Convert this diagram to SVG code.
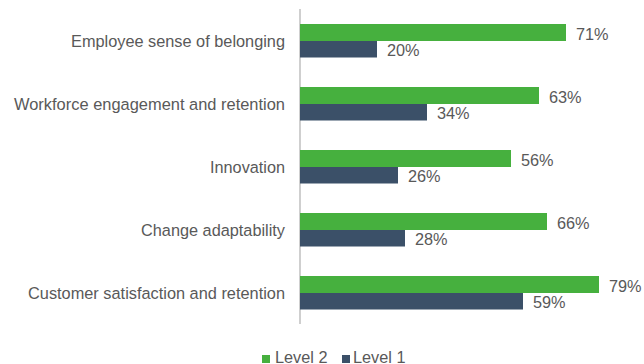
<svg xmlns="http://www.w3.org/2000/svg" width="644" height="364" viewBox="0 0 644 364">
<style>
.cat{font-family:"Liberation Sans",Arial,sans-serif;font-size:16.3px;fill:#595959}
.val{font-family:"Liberation Sans",Arial,sans-serif;font-size:16.3px;fill:#595959}
.leg{font-family:"Liberation Sans",Arial,sans-serif;font-size:16.3px;fill:#595959}
.g{fill:#46B03E}
.n{fill:#3B5068}
</style>
<rect width="644" height="364" fill="#FFFFFF"/>
<g id="connectors">
<line x1="300" y1="9" x2="300" y2="324" stroke="#BFBFBF" stroke-width="1.5"/>
</g>
<g id="row1">
<text class="cat" x="71" y="46.5" textLength="214" lengthAdjust="spacingAndGlyphs">Employee sense of belonging</text>
<rect class="g" x="300" y="24" width="266" height="17"/>
<rect class="n" x="300" y="41" width="77" height="16.5"/>
<text class="val" x="576" y="39.5">71%</text>
<text class="val" x="387" y="56">20%</text>
</g>
<g id="row2">
<text class="cat" x="14" y="109.5" textLength="271" lengthAdjust="spacingAndGlyphs">Workforce engagement and retention</text>
<rect class="g" x="300" y="87" width="239" height="17"/>
<rect class="n" x="300" y="104" width="127" height="16.5"/>
<text class="val" x="549" y="102.5">63%</text>
<text class="val" x="437" y="119">34%</text>
</g>
<g id="row3">
<text class="cat" x="210" y="172.5" textLength="75" lengthAdjust="spacingAndGlyphs">Innovation</text>
<rect class="g" x="300" y="150" width="211" height="17"/>
<rect class="n" x="300" y="167" width="98" height="16.5"/>
<text class="val" x="521" y="165.5">56%</text>
<text class="val" x="408" y="182">26%</text>
</g>
<g id="row4">
<text class="cat" x="141" y="235.5" textLength="144" lengthAdjust="spacingAndGlyphs">Change adaptability</text>
<rect class="g" x="300" y="213" width="247" height="17"/>
<rect class="n" x="300" y="230" width="105" height="16.5"/>
<text class="val" x="557" y="228.5">66%</text>
<text class="val" x="415" y="245">28%</text>
</g>
<g id="row5">
<text class="cat" x="28" y="298.5" textLength="257" lengthAdjust="spacingAndGlyphs">Customer satisfaction and retention</text>
<rect class="g" x="300" y="276" width="299" height="17"/>
<rect class="n" x="300" y="293" width="223" height="16.5"/>
<text class="val" x="609" y="291.5">79%</text>
<text class="val" x="533" y="308">59%</text>
</g>
<g id="legend">
<rect class="g" x="262" y="355" width="8" height="8"/>
<text class="leg" x="275" y="363">Level 2</text>
<rect class="n" x="342" y="355" width="8" height="8"/>
<text class="leg" x="353" y="363">Level 1</text>
</g>
</svg>
